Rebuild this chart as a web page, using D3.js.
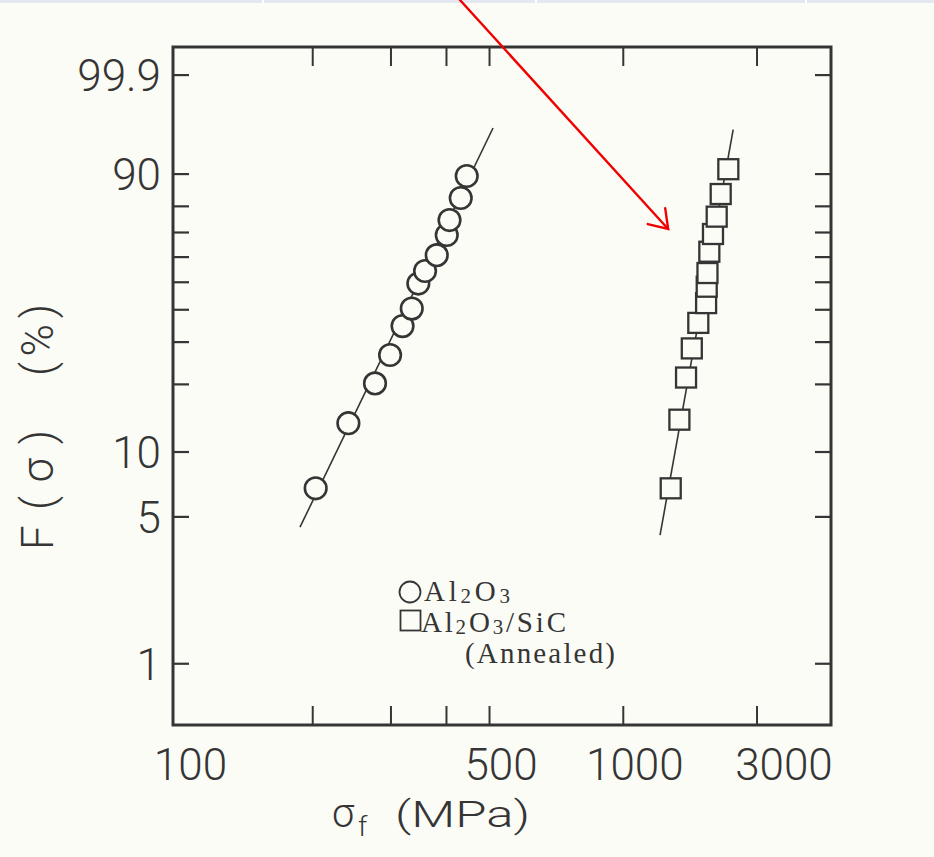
<!DOCTYPE html>
<html>
<head>
<meta charset="utf-8">
<script src="https://cdn.jsdelivr.net/npm/d3@7"></script>
<style>
  html, body { margin: 0; padding: 0; background: #fcfcf6; }
  svg { display: block; }
</style>
</head>
<body>
<svg id="chart" width="934" height="857"></svg>
<script>
// Fracture strength (MPa) and cumulative failure probability F (%) for each specimen
const al2o3Strength = [203.6, 241.2, 276.9, 299.4, 319.4, 335.0, 346.6, 358.9, 381.3, 401.6, 407.4, 431.8, 445.4];
const al2o3Prob     = [6.8, 13.5, 20.2, 26.6, 34.7, 40.4, 49.5, 54.4, 60.8, 69.0, 74.9, 82.9, 89.5];
const sicStrength   = [1282, 1341, 1388, 1430, 1479, 1540, 1545, 1551, 1566, 1596, 1627, 1661, 1728];
const sicProb       = [6.8, 14.0, 21.4, 28.3, 35.7, 42.3, 48.3, 53.6, 62.2, 69.4, 76.2, 84.2, 91.2];

// Weibull fit lines, given by their two end points
const al2o3FitStrength = [187.7, 510.5];
const al2o3FitProb     = [4.47, 97.85];
const sicFitStrength   = [1213, 1772];
const sicFitProb       = [4.10, 97.7];

// Axis ticks and labels
const xTickValues  = [200, 300, 400, 500, 1000, 2000];
const xLabelValues = [100, 500, 1000, 3000];
const yTickValues  = [99.9, 90, 80, 70, 60, 50, 40, 30, 20, 10, 5, 1];
const yLabelValues = [99.9, 90, 10, 5, 1];

// Arrow annotation: tail strength (at the page top) and head point (strength, F %)
const arrowTail = [430];
const arrowHead = [1265, 71.4];

const ink = "#353535";
const bg = "#fcfcf6";
const svg = d3.select("#chart");

const frame = { left: 173, right: 831, top: 47, bottom: 725 };

// strength axis: logarithmic
const x = d3.scaleLog().domain([97.2, 2942]).range([frame.left, frame.right]);
// probability axis: Weibull paper, ln(-ln(1-F))
const weib = p => Math.log(-Math.log(1 - p / 100));
const yw = d3.scaleLinear().domain([weib(0.508), weib(99.992)]).range([frame.bottom, frame.top]);
const y = p => yw(weib(p));

// thin tinted strip along the page top
svg.append("rect").attr("x", 0).attr("y", 0).attr("width", 934).attr("height", 3).attr("fill", "#e2e7f0");
[262, 535, 805].forEach(sx => svg.append("rect").attr("x", sx).attr("y", 0).attr("width", 2).attr("height", 3).attr("fill", "#ffffff"));

// plot frame
svg.append("rect")
  .attr("x", frame.left).attr("y", frame.top)
  .attr("width", frame.right - frame.left).attr("height", frame.bottom - frame.top)
  .attr("fill", "none").attr("stroke", ink).attr("stroke-width", 3);

// x ticks, bottom and top, pointing inward
const bottomAxis = svg.append("g").attr("transform", `translate(0,${frame.bottom})`)
  .call(d3.axisBottom(x).tickValues(xTickValues).tickSize(-19).tickFormat(""));
const topAxis = svg.append("g").attr("transform", `translate(0,${frame.top})`)
  .call(d3.axisTop(x).tickValues(xTickValues).tickSize(-19).tickFormat(""));
[bottomAxis, topAxis].forEach(g => {
  g.select(".domain").remove();
  g.selectAll(".tick line").attr("stroke", ink).attr("stroke-width", 2);
});

// y ticks, left and right, pointing inward
const yTicks = svg.append("g");
yTicks.selectAll("line.l").data(yTickValues).join("line").attr("class", "l")
  .attr("x1", frame.left).attr("x2", frame.left + 16)
  .attr("y1", d => y(d)).attr("y2", d => y(d))
  .attr("stroke", ink).attr("stroke-width", 2.2);
yTicks.selectAll("line.r").data(yTickValues).join("line").attr("class", "r")
  .attr("x1", frame.right).attr("x2", frame.right - 16)
  .attr("y1", d => y(d)).attr("y2", d => y(d))
  .attr("stroke", ink).attr("stroke-width", 2.2);

const labelFont = "Roboto, 'DejaVu Sans', sans-serif";

// y tick labels
svg.append("g").selectAll("text").data(yLabelValues).join("text")
  .attr("x", frame.left - 12).attr("y", d => y(d)).attr("dy", "0.36em")
  .attr("text-anchor", "end")
  .attr("font-family", labelFont).attr("font-weight", 300).attr("font-size", 44)
  .attr("fill", ink)
  .text(d => d);

// x tick labels
const lastX = xLabelValues[xLabelValues.length - 1];
svg.append("g").selectAll("text").data(xLabelValues).join("text")
  .attr("x", d => d === lastX ? x(d) - 2 : x(d) + 12)
  .attr("y", 780)
  .attr("text-anchor", d => d === lastX ? "end" : "middle")
  .attr("font-family", labelFont).attr("font-weight", 300).attr("font-size", 44)
  .attr("fill", ink)
  .text(d => d);

// x axis title: σf (MPa)
const xt = svg.append("g").attr("fill", ink).attr("font-family", labelFont).attr("font-weight", 300);
xt.append("text").attr("x", 332).attr("y", 827).attr("font-size", 40).text("σ");
xt.append("text").attr("x", 358).attr("y", 836).attr("font-size", 28).text("f");
xt.append("text").attr("x", 395).attr("y", 827).attr("font-size", 36)
  .attr("textLength", 135).attr("lengthAdjust", "spacingAndGlyphs").text("(MPa)");

// y axis title: F(σ) (%), reading upward from the bottom
const yt = svg.append("g").attr("transform", "translate(53,550) rotate(-90)")
  .attr("fill", ink).attr("font-family", labelFont).attr("font-weight", 300).attr("font-size", 44);
yt.append("text").attr("x", 0).attr("y", 0).text("F");
yt.append("text").attr("x", 40).attr("y", 0)
  .attr("textLength", 80).attr("lengthAdjust", "spacing").text("(σ)");
yt.append("text").attr("x", 174).attr("y", 0)
  .attr("textLength", 72).attr("lengthAdjust", "spacing").text("(%)");

// fit lines
const line = d3.line().x(d => x(d[0])).y(d => y(d[1]));
svg.append("path").datum(d3.zip(al2o3FitStrength, al2o3FitProb))
  .attr("d", line).attr("fill", "none").attr("stroke", ink).attr("stroke-width", 1.6);
svg.append("path").datum(d3.zip(sicFitStrength, sicFitProb))
  .attr("d", line).attr("fill", "none").attr("stroke", ink).attr("stroke-width", 1.6);

// Al2O3 specimens: open circles
svg.append("g").selectAll("circle").data(d3.zip(al2o3Strength, al2o3Prob)).join("circle")
  .attr("cx", d => x(d[0])).attr("cy", d => y(d[1])).attr("r", 10.8)
  .attr("fill", bg).attr("stroke", ink).attr("stroke-width", 2.6);

// Al2O3/SiC annealed specimens: open squares
const sq = 20;
svg.append("g").selectAll("rect").data(d3.zip(sicStrength, sicProb)).join("rect")
  .attr("x", d => x(d[0]) - sq / 2).attr("y", d => y(d[1]) - sq / 2)
  .attr("width", sq).attr("height", sq)
  .attr("fill", bg).attr("stroke", ink).attr("stroke-width", 2.3);

// legend
const serif = "'Liberation Serif', 'Times New Roman', serif";
const lg = svg.append("g").attr("fill", ink).attr("font-family", serif);
lg.append("circle").attr("cx", 410).attr("cy", 592).attr("r", 10.5)
  .attr("fill", "none").attr("stroke", ink).attr("stroke-width", 1.8);
const t1 = lg.append("text").attr("x", 424).attr("y", 601).attr("font-size", 29)
  .attr("textLength", 86).attr("lengthAdjust", "spacing");
t1.append("tspan").text("Al");
t1.append("tspan").attr("font-size", 21).attr("dy", 2).text("2");
t1.append("tspan").attr("dy", -2).text("O");
t1.append("tspan").attr("font-size", 21).attr("dy", 2).text("3");

lg.append("rect").attr("x", 400.5).attr("y", 610.5).attr("width", 20).attr("height", 20)
  .attr("fill", "none").attr("stroke", ink).attr("stroke-width", 1.8);
const t2 = lg.append("text").attr("x", 421).attr("y", 632).attr("font-size", 29)
  .attr("textLength", 145).attr("lengthAdjust", "spacing");
t2.append("tspan").text("Al");
t2.append("tspan").attr("font-size", 21).attr("dy", 2).text("2");
t2.append("tspan").attr("dy", -2).text("O");
t2.append("tspan").attr("font-size", 21).attr("dy", 2).text("3");
t2.append("tspan").attr("dy", -2).text("/SiC");

lg.append("text").attr("x", 465).attr("y", 663).attr("font-size", 29)
  .attr("textLength", 150).attr("lengthAdjust", "spacing").text("(Annealed)");

// red arrow annotation
const tail = [x(arrowTail[0]), 0];
const head = [x(arrowHead[0]), y(arrowHead[1])];
const ang = Math.atan2(head[1] - tail[1], head[0] - tail[0]);
const barb = 21, spread = Math.PI * 0.19;
const b1 = [head[0] - barb * Math.cos(ang - spread), head[1] - barb * Math.sin(ang - spread)];
const b2 = [head[0] - barb * Math.cos(ang + spread), head[1] - barb * Math.sin(ang + spread)];
const arrow = svg.append("g").attr("stroke", "#f00000").attr("stroke-width", 2.4)
  .attr("fill", "none").attr("stroke-linecap", "round");
arrow.append("line").attr("x1", tail[0]).attr("y1", tail[1]).attr("x2", head[0]).attr("y2", head[1]);
arrow.append("path").attr("d", d3.line()([b1, head, b2]));
</script>
</body>
</html>
